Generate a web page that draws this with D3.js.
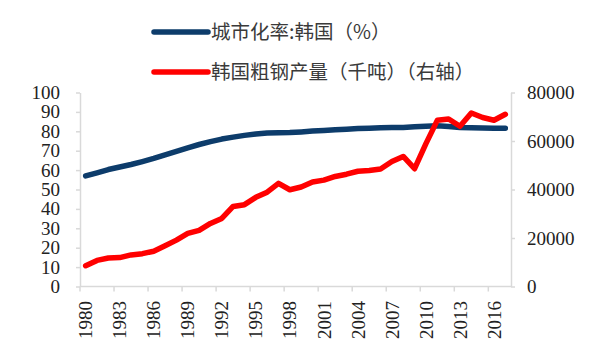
<!DOCTYPE html>
<html><head><meta charset="utf-8">
<script src="https://cdn.jsdelivr.net/npm/d3@7"></script>
<style>html,body{margin:0;padding:0;background:#fff;}svg{display:block;}</style>
</head><body>
<svg id="chart" width="600" height="360"></svg>
<script>
const years = d3.range(1980, 2018);
const urbanRate = [57.0,58.6,60.3,61.6,62.9,64.4,66.0,67.8,69.6,71.5,73.2,74.7,76.0,77.0,77.9,78.6,79.1,79.3,79.4,79.7,80.1,80.4,80.8,81.1,81.4,81.6,81.8,81.9,82.0,82.3,82.6,82.8,82.5,82.0,81.8,81.7,81.6,81.6];
const steelOutput = [8558,10753,11758,11915,13033,13539,14555,16782,19118,21873,23125,26001,28055,33026,33745,36772,38903,42554,39896,41042,43107,43852,45390,46310,47521,47820,48455,51517,53625,48572,58914,68519,69073,66061,71543,69670,68576,71030];
const leftTicks = d3.range(0, 101, 10);
const rightTicks = [0, 20000, 40000, 60000, 80000];
const xTickYears = years.filter(y => (y - 1980) % 3 === 0);
const legendLabels = ["城市化率:韩国（%）", "韩国粗钢产量（千吨）（右轴）"];

const svg = d3.select("#chart");
const axisColor = "#d9d9d9";
const blue = "#0d3c6b", red = "#ff0000";
const numFont = "'Liberation Serif','Times New Roman',serif";

const x = d3.scaleBand().domain(years).range([80, 511]).padding(0);
const yL = d3.scaleLinear().domain([0, 100]).range([286.5, 92.5]);
const yR = d3.scaleLinear().domain([0, 80000]).range([286.5, 92.5]);
const cx = y => x(y) + x.bandwidth() / 2;

// left axis
const gL = svg.append("g").attr("transform", "translate(80,0)")
  .call(d3.axisLeft(yL).tickValues(leftTicks).tickSize(4).tickPadding(16).tickSizeOuter(0));
// right axis
const gR = svg.append("g").attr("transform", "translate(511,0)")
  .call(d3.axisRight(yR).tickValues(rightTicks).tickSize(4).tickPadding(12).tickSizeOuter(0).tickFormat(d3.format("d")));
[gL, gR].forEach(g => {
  g.select(".domain").attr("stroke", axisColor).attr("stroke-width", 1.5);
  g.selectAll(".tick line").attr("stroke", axisColor).attr("stroke-width", 1.5);
  g.selectAll(".tick text").attr("font-family", numFont).attr("font-size", 19).attr("fill", "#222");
});

// bottom axis
const gB = svg.append("g");
gB.append("line").attr("x1", 80).attr("x2", 511).attr("y1", yL(0)).attr("y2", yL(0))
  .attr("stroke", axisColor).attr("stroke-width", 1.5);
gB.selectAll("line.tk").data(xTickYears).join("line").attr("class", "tk")
  .attr("x1", d => x(d)).attr("x2", d => x(d)).attr("y1", yL(0)).attr("y2", yL(0) + 5)
  .attr("stroke", axisColor).attr("stroke-width", 1.5);
gB.selectAll("text").data(xTickYears).join("text")
  .attr("transform", d => `translate(${cx(d)},301) rotate(-90)`)
  .attr("text-anchor", "end").attr("dy", "0.35em")
  .attr("font-family", numFont).attr("font-size", 19).attr("fill", "#222")
  .text(d => d);

// lines
const lineU = d3.line().x((d, i) => cx(years[i])).y(d => yL(d));
const lineS = d3.line().x((d, i) => cx(years[i])).y(d => yR(d));
svg.append("path").datum(urbanRate).attr("d", lineU).attr("fill", "none")
  .attr("stroke", blue).attr("stroke-width", 5.5).attr("stroke-linecap", "round").attr("stroke-linejoin", "round");
svg.append("path").datum(steelOutput).attr("d", lineS).attr("fill", "none")
  .attr("stroke", red).attr("stroke-width", 5.5).attr("stroke-linecap", "round").attr("stroke-linejoin", "round");

// legend
const leg = svg.append("g");
[[blue, 32], [red, 72]].forEach(([c, yy], i) => {
  leg.append("line").attr("x1", 154).attr("x2", 208).attr("y1", yy).attr("y2", yy)
    .attr("stroke", c).attr("stroke-width", 5.5).attr("stroke-linecap", "round");
  leg.append("text").attr("x", 211).attr("y", yy).attr("dy", "0.35em")
    .attr("font-family", "'Noto Sans CJK SC','Noto Sans',sans-serif").attr("font-size", 19.5)
    .attr("fill", "#3a3a3a").text(legendLabels[i]);
});
</script>
</body></html>
